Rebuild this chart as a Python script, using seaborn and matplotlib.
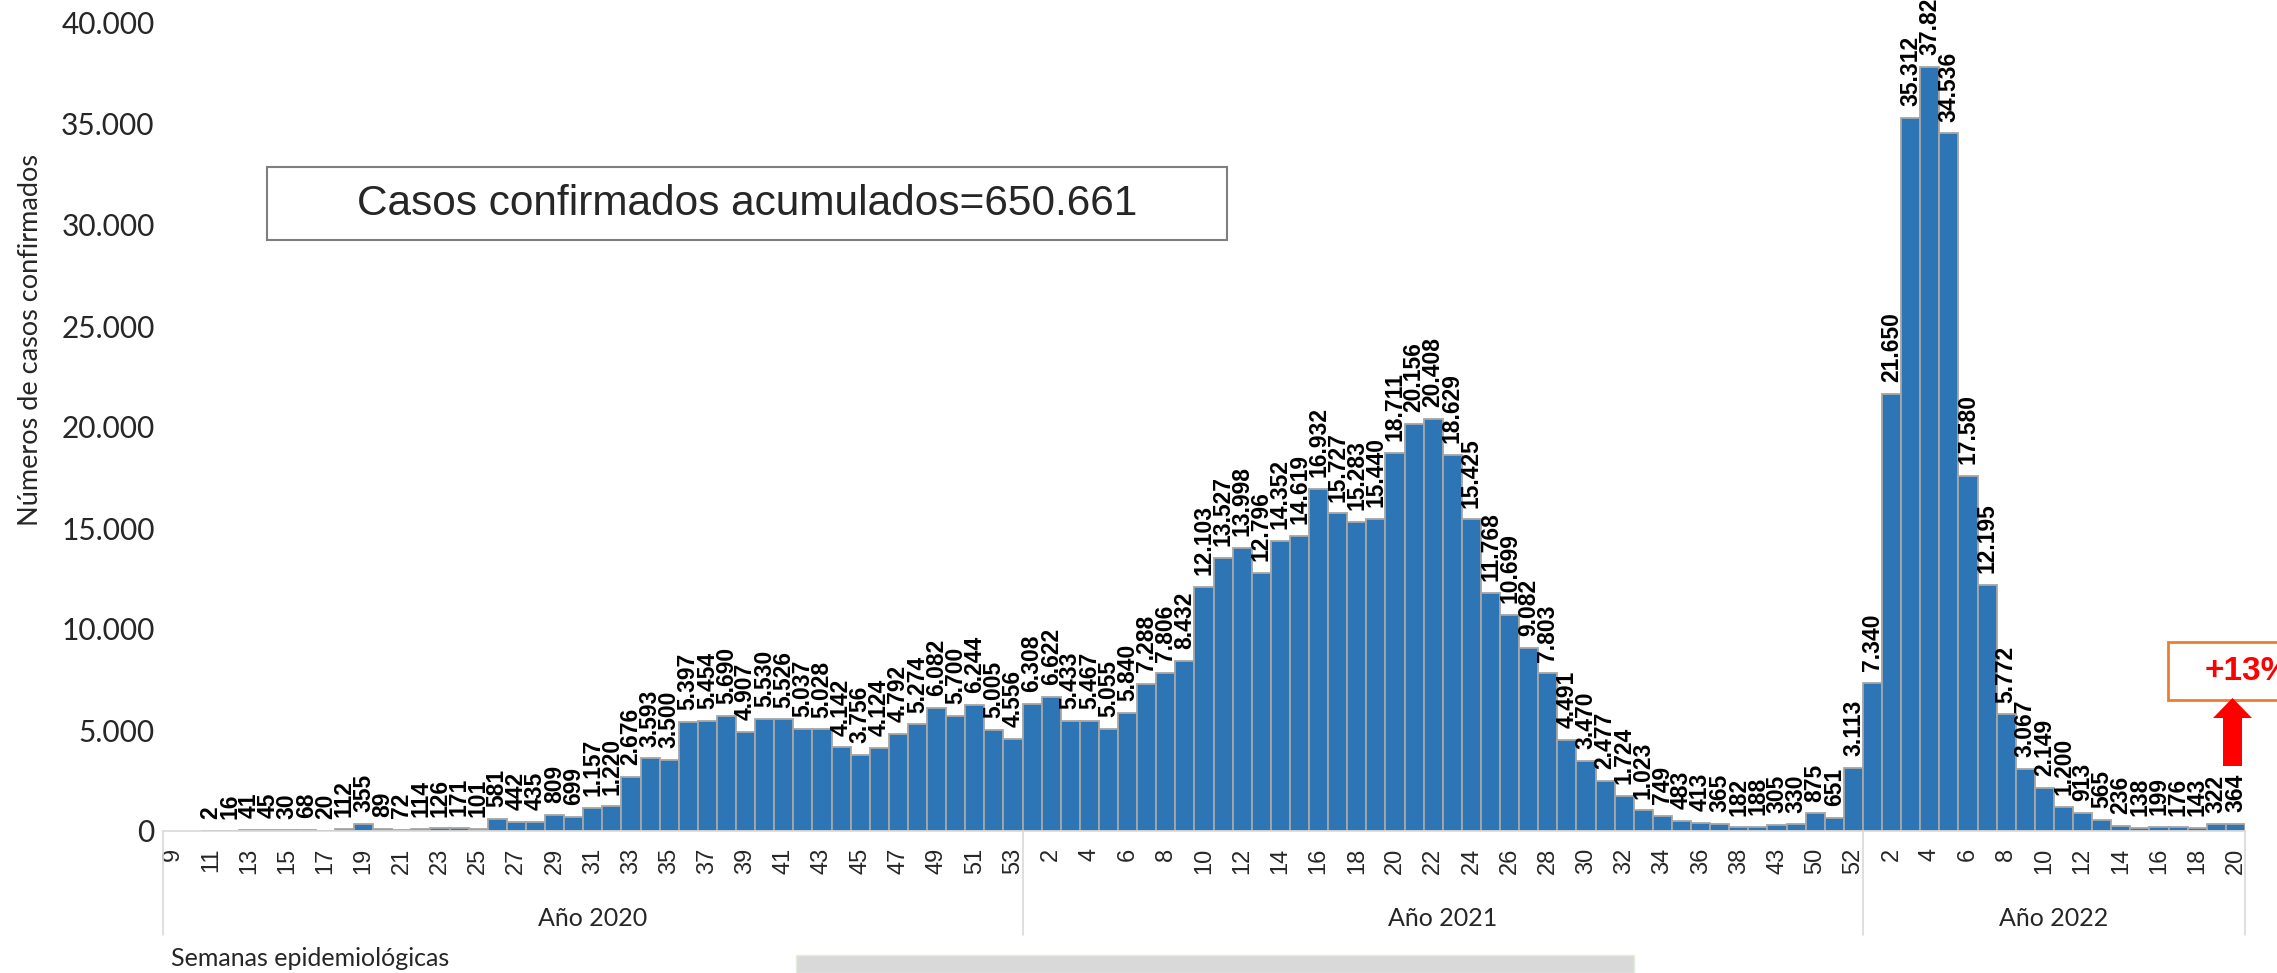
import numpy as np
import pandas as pd
import matplotlib
matplotlib.use("Agg")
import matplotlib.pyplot as plt
import seaborn as sns
from matplotlib.patches import Rectangle, Polygon

# weekly confirmed cases (weeks 9-10 of 2020 have no value)
weeks_2020 = [str(w) for w in range(9, 54)]
cases_2020 = [np.nan, np.nan, 2, 16, 41, 45, 30, 68, 20, 112, 355, 89, 72, 114, 126,
              171, 101, 581, 442, 435, 809, 699, 1157, 1220, 2676, 3593, 3500, 5397,
              5454, 5690, 4907, 5530, 5526, 5037, 5028, 4142, 3756, 4124, 4792, 5274,
              6082, 5700, 6244, 5005, 4556]

weeks_2021 = [str(w) for w in range(1, 39)] + ["40", "43", "47", "50", "51", "52"]
cases_2021 = [6308, 6622, 5433, 5467, 5055, 5840, 7288, 7806, 8432, 12103, 13527,
              13998, 12796, 14352, 14619, 16932, 15727, 15283, 15440, 18711, 20156,
              20408, 18629, 15425, 11768, 10699, 9082, 7803, 4491, 3470, 2477, 1724,
              1023, 749, 483, 413, 365, 182, 188, 305, 330, 875, 651, 3113]

weeks_2022 = [str(w) for w in range(1, 21)]
cases_2022 = [7340, 21650, 35312, 37826, 34536, 17580, 12195, 5772, 3067, 2149, 1200,
              913, 565, 236, 138, 199, 176, 143, 322, 364]

years = ["Año 2020", "Año 2021", "Año 2022"]
total_text = "Casos confirmados acumulados=650.661"
change_text = "+13%"

frames = []
for yr, wk, cs in zip(years, [weeks_2020, weeks_2021, weeks_2022],
                      [cases_2020, cases_2021, cases_2022]):
    frames.append(pd.DataFrame({"year": yr, "week": wk, "cases": cs}))
df = pd.concat(frames, ignore_index=True)
df["key"] = df["year"] + "-" + df["week"]


def fmt(v):
    return f"{v:,.0f}".replace(",", ".")


sns.set_style("white")
plt.rcParams["font.family"] = ["Liberation Sans", "DejaVu Sans"]

W, H = 2277, 973
fig = plt.figure(figsize=(W / 100, H / 100), dpi=100)
ax = fig.add_axes([163 / W, 1 - 831 / H, (2245 - 163) / W, (831 - 23) / H])

sns.barplot(data=df, x="key", y="cases", order=list(df["key"]), color="#2E75B6",
            saturation=1, width=1, edgecolor="#a6a6a6", linewidth=1.3,
            errorbar=None, ax=ax)

n = len(df)
ax.set_xlim(-0.5, n - 0.5)
ax.set_ylim(0, 40000)

# value labels on top of each bar
for i, v in enumerate(df["cases"]):
    if np.isnan(v):
        continue
    ax.annotate(fmt(v), (i, v), xytext=(0, 8.5), textcoords="offset points",
                rotation=90, ha="center", va="bottom", fontsize=16.5,
                fontweight="bold", color="black")

# x ticks: Excel shows every other week
ax.set_xticks(range(n))
ax.set_xticklabels([w if i % 2 == 0 else "" for i, w in enumerate(df["week"])],
                   rotation=90, fontsize=17)
ax.tick_params(axis="x", length=0, pad=12)

yt = list(range(0, 40001, 5000))
ax.set_yticks(yt)
ax.set_yticklabels([fmt(v) for v in yt], fontsize=21.5, family=["Lato", "DejaVu Sans"])
ax.tick_params(axis="y", length=0, pad=6)
ax.set_xlabel("")
ax.set_ylabel("")

sns.despine(ax=ax, left=True)
ax.spines["bottom"].set_color("#d9d9d9")
ax.spines["bottom"].set_linewidth(1.2)

# year grouping under the axis
trans = ax.get_xaxis_transform()
sizes = df.groupby("year", sort=False).size().tolist()
edges = np.concatenate([[0], np.cumsum(sizes)]) - 0.5
for xb in edges:
    ax.plot([xb, xb], [0, -0.129], transform=trans, color="#d9d9d9", lw=1.2,
            clip_on=False)
for yr, a, b in zip(years, edges[:-1], edges[1:]):
    ax.text((a + b) / 2, -0.108, yr, transform=trans, ha="center", va="center",
            fontsize=18, family=["Lato", "DejaVu Sans"])

fig.text(31 / W, 1 - 340 / H, "Números de casos confirmados", rotation=90,
         ha="center", va="center", fontsize=19.5, family=["Lato", "DejaVu Sans"])
fig.text(171 / W, 1 - 958 / H, "Semanas epidemiológicas", ha="left", va="center",
         fontsize=18, family=["Lato", "DejaVu Sans"])

# total cases box
fig.patches.append(Rectangle((267 / W, 1 - 240 / H), 960 / W, 73 / H,
                             transform=fig.transFigure, facecolor="white",
                             edgecolor="#7f7f7f", lw=1.5))
fig.text(747 / W, 1 - 204 / H, total_text, ha="center", va="center", fontsize=30.5)

# +13% box and arrow
fig.patches.append(Rectangle((2168 / W, 1 - 700 / H), 140 / W, 58 / H,
                             transform=fig.transFigure, facecolor="white",
                             edgecolor="#ED7D31", lw=2))
fig.text(2205 / W, 1 - 671 / H, change_text, ha="left", va="center", fontsize=24,
         fontweight="bold", color="#ff0000")
arrow_px = [(2223, 766), (2242, 766), (2242, 718), (2252, 718), (2232.5, 698),
            (2213, 718), (2223, 718)]
fig.patches.append(Polygon([(x / W, 1 - y / H) for x, y in arrow_px], closed=True,
                           transform=fig.transFigure, facecolor="#ff0000",
                           edgecolor="none"))

# grey strip at the bottom
fig.patches.append(Rectangle((796 / W, 0), 838 / W, 18 / H, transform=fig.transFigure,
                             facecolor="#d9d9d9", edgecolor="#e2efda", lw=1))

fig.savefig("out.png", dpi=100)
